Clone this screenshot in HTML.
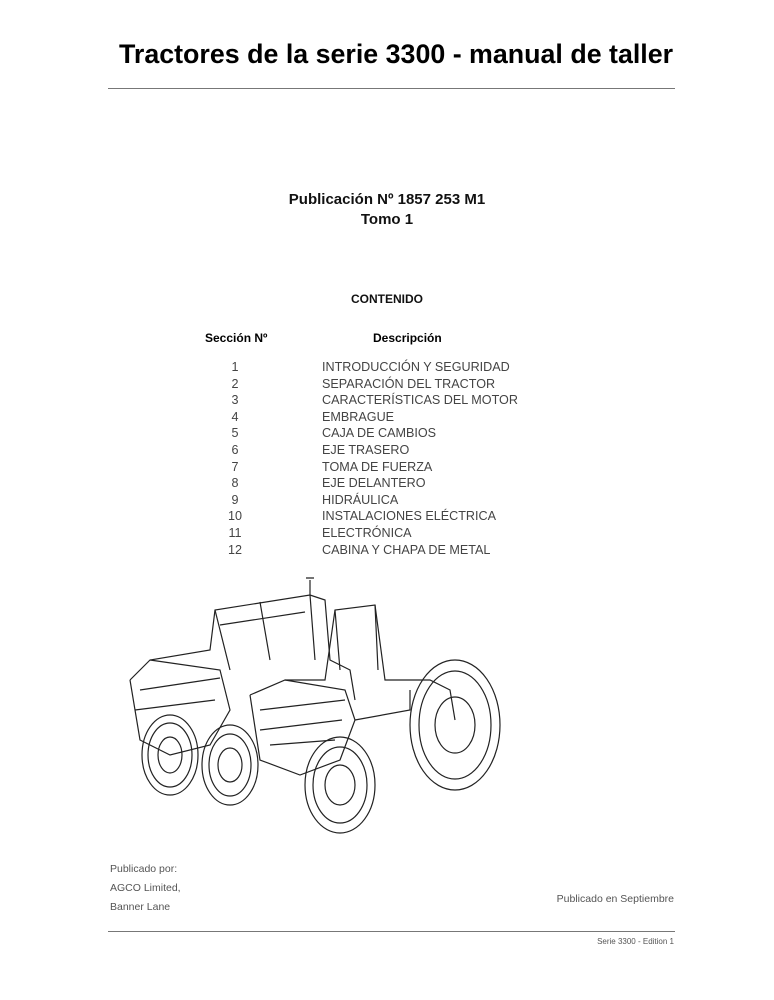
<!DOCTYPE html>
<html><head><meta charset="utf-8"><style>
body{margin:0;width:774px;height:1000px;background:#fff;position:relative;font-family:"Liberation Sans",sans-serif;overflow:hidden}
.a{position:absolute;white-space:nowrap}
.t{font-weight:bold;font-size:26.8px;left:119px;top:39px;}
.hr{position:absolute;left:108px;width:567px;height:1px;background:#777}
.c{text-align:center;left:0;width:774px;font-weight:bold;color:#111}
.r{font-size:12.6px;color:#444;line-height:16.6px}
.g{color:#555;font-size:11px}
</style></head><body>
<div class="a t">Tractores de la serie 3300 - manual de taller</div>
<div class="hr" style="top:88px"></div>
<div class="a c" style="top:190px;font-size:15px;line-height:20px;">Publicación Nº 1857 253 M1<br>Tomo 1</div>
<div class="a c" style="top:292px;font-size:12px;">CONTENIDO</div>
<div class="a" style="left:205px;top:331px;font-size:12px;font-weight:bold;">Sección Nº</div>
<div class="a" style="left:373px;top:331px;font-size:12px;font-weight:bold;">Descripción</div>
<div class="a r" style="left:220px;top:359px;width:30px;text-align:center;">1<br>2<br>3<br>4<br>5<br>6<br>7<br>8<br>9<br>10<br>11<br>12</div>
<div class="a r" style="left:322px;top:359px;">INTRODUCCIÓN Y SEGURIDAD<br>SEPARACIÓN DEL TRACTOR<br>CARACTERÍSTICAS DEL MOTOR<br>EMBRAGUE<br>CAJA DE CAMBIOS<br>EJE TRASERO<br>TOMA DE FUERZA<br>EJE DELANTERO<br>HIDRÁULICA<br>INSTALACIONES ELÉCTRICA<br>ELECTRÓNICA<br>CABINA Y CHAPA DE METAL</div>
<svg class="a" style="left:110px;top:570px" width="400" height="280" viewBox="0 0 400 280" fill="none" stroke="#222" stroke-width="1.2">
<path d="M20 110 L40 90 L100 80 L105 40 L200 25 L215 30 L220 90 L240 100 L245 130"/>
<path d="M105 40 L120 100 M150 32 L160 90 M200 25 L205 90 M110 55 L195 42 M30 120 L110 108 M25 140 L105 130"/>
<path d="M20 110 L30 170 L60 185 L100 175 L120 140 L110 100 L40 90"/>
<ellipse cx="60" cy="185" rx="28" ry="40"/><ellipse cx="60" cy="185" rx="12" ry="18"/><ellipse cx="60" cy="185" rx="22" ry="32"/>
<path d="M200 10 L200 25 M196 8 h8"/>
<path d="M140 125 L175 110 L215 110 L225 40 L265 35 L275 110 L320 110 L340 120 L345 150"/>
<path d="M225 40 L230 100 M265 35 L268 100 M150 140 L235 130 M150 160 L232 150 M160 175 L225 170"/>
<path d="M140 125 L150 190 L190 205 L230 190 L245 150 L235 120 L175 110"/>
<ellipse cx="230" cy="215" rx="35" ry="48"/><ellipse cx="230" cy="215" rx="15" ry="20"/><ellipse cx="230" cy="215" rx="27" ry="38"/>
<ellipse cx="120" cy="195" rx="28" ry="40"/><ellipse cx="120" cy="195" rx="12" ry="17"/><ellipse cx="120" cy="195" rx="21" ry="31"/>
<ellipse cx="345" cy="155" rx="45" ry="65"/><ellipse cx="345" cy="155" rx="20" ry="28"/><ellipse cx="345" cy="155" rx="36" ry="54"/>
<path d="M245 150 L300 140 L300 120"/>
</svg>
<div class="a g" style="left:110px;top:860px;font-size:10.5px;line-height:19px">Publicado por:<br>AGCO Limited,<br>Banner Lane</div>
<div class="a g" style="right:100px;top:893px;font-size:10.5px;">Publicado en Septiembre</div>
<div class="hr" style="top:931px"></div>
<div class="a g" style="right:100px;top:937px;font-size:8px;">Serie 3300 - Edition 1</div>
</body></html>
